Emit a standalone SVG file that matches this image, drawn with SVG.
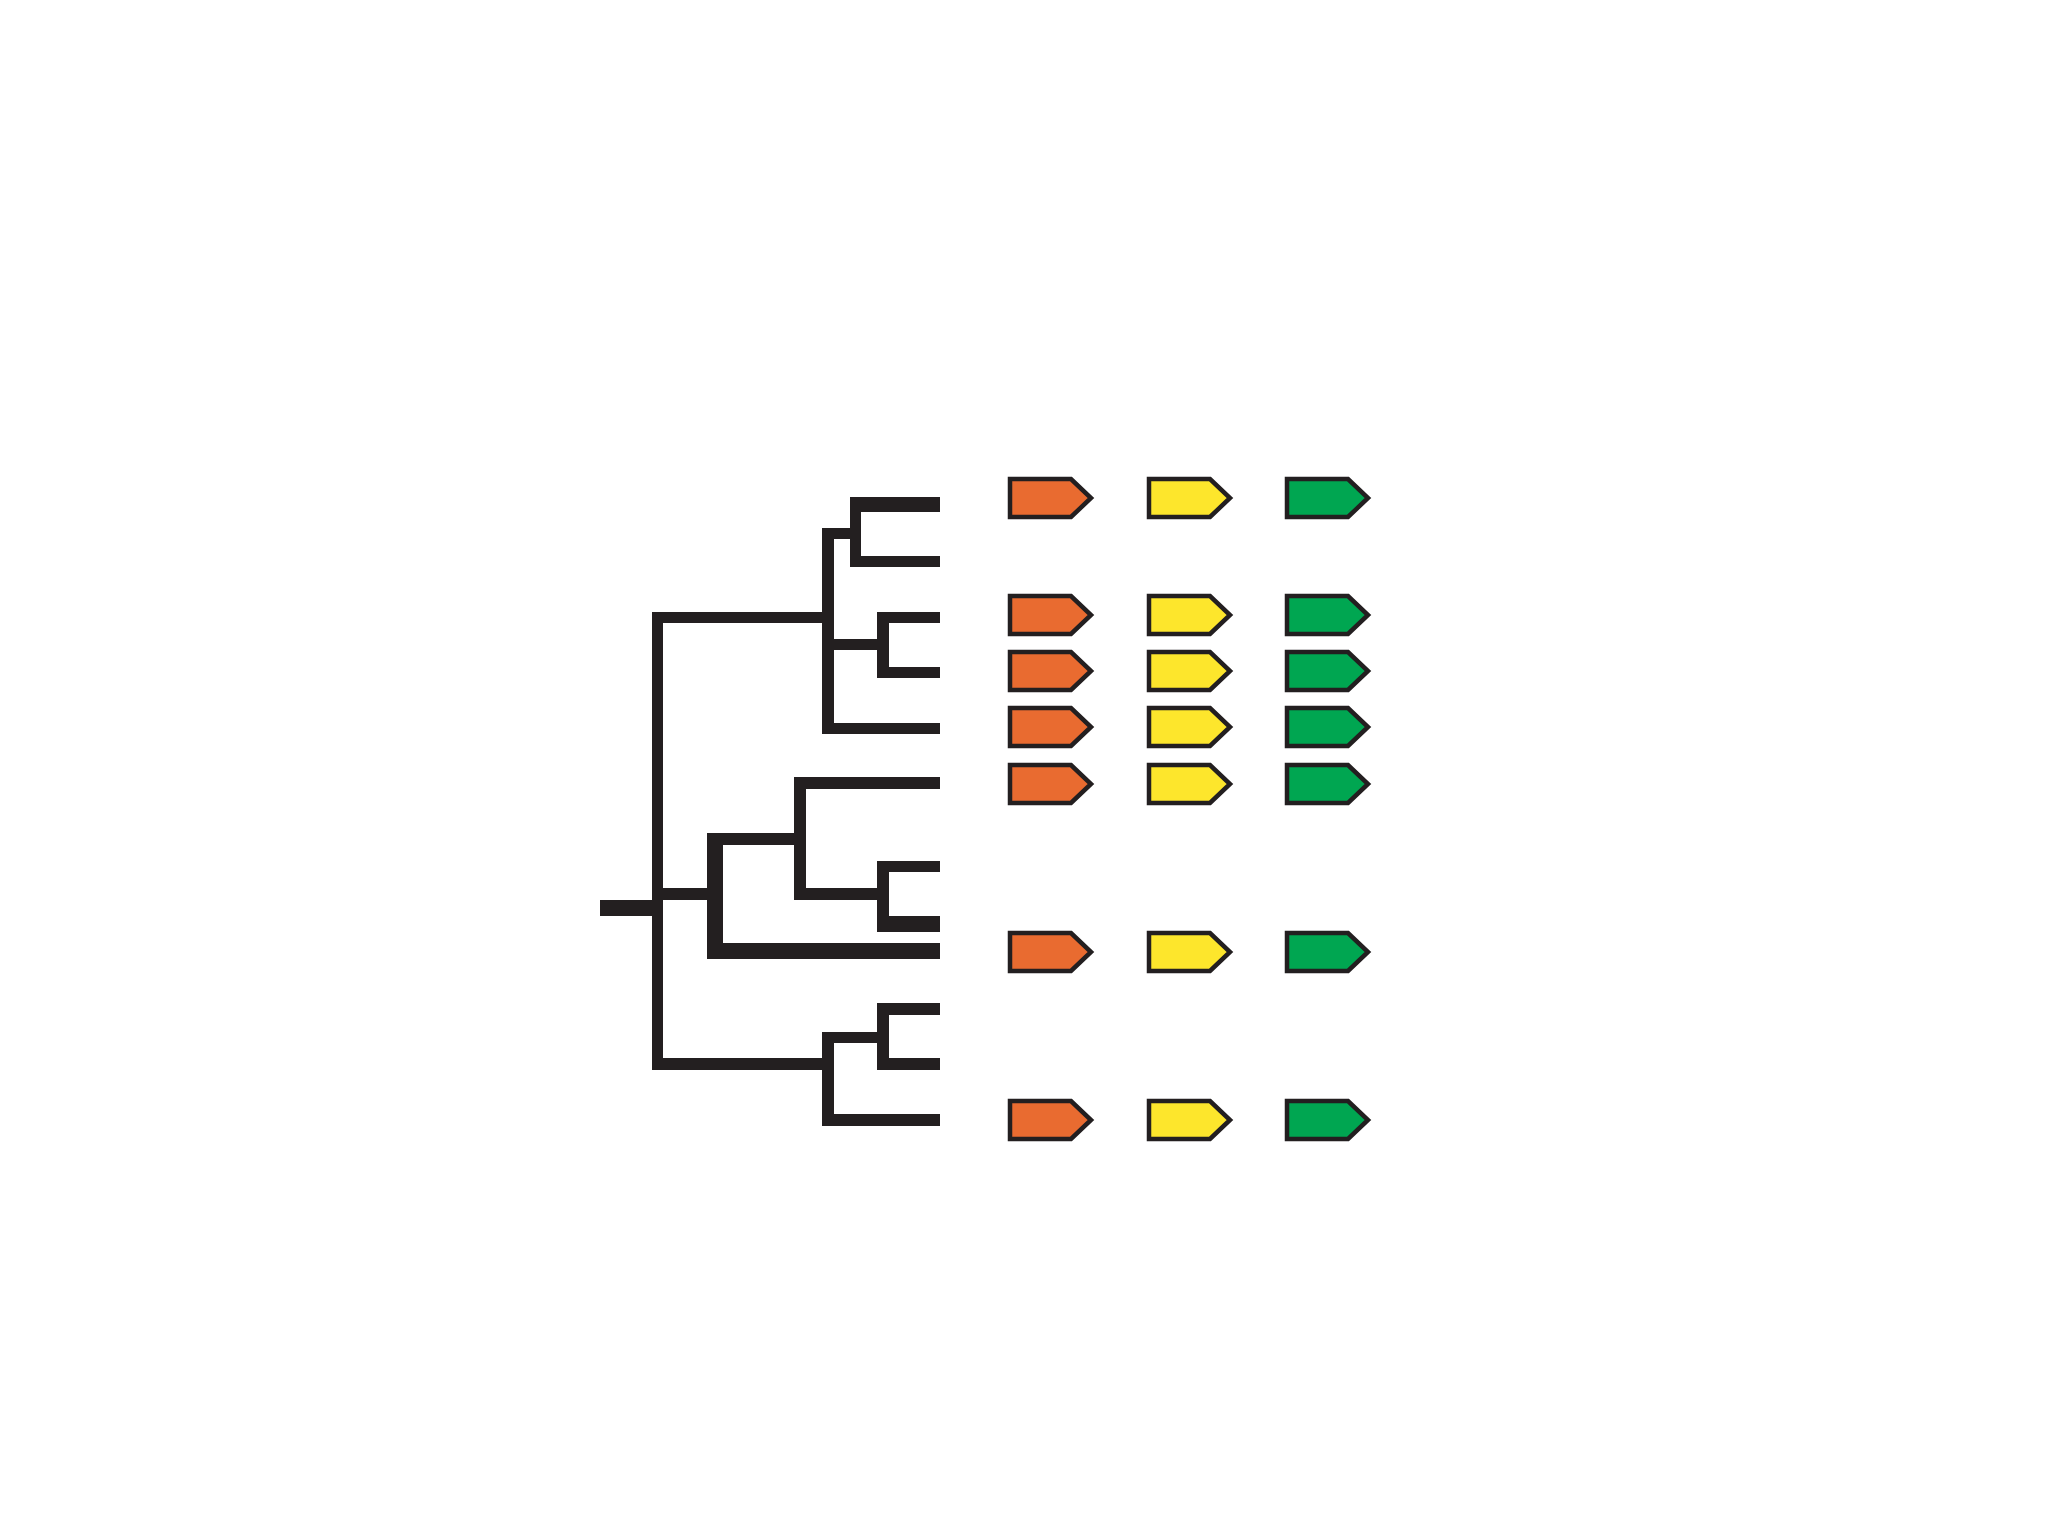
<svg xmlns="http://www.w3.org/2000/svg" xmlns:xlink="http://www.w3.org/1999/xlink" width="2048" height="1536" viewBox="0 0 2048 1536">
<style>
.br{fill:#231f20}
.tag{stroke:#231f20;stroke-width:4.5;stroke-linejoin:miter}
.o{fill:#e96b30}
.y{fill:#fde62c}
.g{fill:#00a651}
</style>
<defs>
<path id="tag" d="M0,-19 H61 L81,0 L61,19 H0 Z"/>
</defs>
<rect width="2048" height="1536" fill="#ffffff"/>
<g id="connectors">
<rect class="br" x="850" y="497" width="90" height="15"/>
<rect class="br" x="850" y="497" width="11" height="70"/>
<rect class="br" x="850" y="556" width="90" height="11"/>
<rect class="br" x="822" y="528" width="39" height="11"/>
<rect class="br" x="822" y="528" width="12" height="205"/>
<rect class="br" x="877" y="612" width="63" height="11"/>
<rect class="br" x="877" y="612" width="12" height="66"/>
<rect class="br" x="877" y="667" width="63" height="11"/>
<rect class="br" x="822" y="639" width="67" height="11"/>
<rect class="br" x="822" y="723" width="118" height="11"/>
<rect class="br" x="652" y="612" width="182" height="11"/>
<rect class="br" x="652" y="612" width="11" height="458"/>
<rect class="br" x="794" y="777" width="146" height="12"/>
<rect class="br" x="794" y="777" width="12" height="123"/>
<rect class="br" x="794" y="888" width="95" height="12"/>
<rect class="br" x="877" y="861" width="63" height="11"/>
<rect class="br" x="877" y="861" width="12" height="71"/>
<rect class="br" x="877" y="916" width="63" height="16"/>
<rect class="br" x="707" y="833" width="99" height="12"/>
<rect class="br" x="707" y="833" width="16" height="126"/>
<rect class="br" x="707" y="943" width="233" height="16"/>
<rect class="br" x="652" y="888" width="71" height="12"/>
<rect class="br" x="600" y="900" width="63" height="16"/>
<rect class="br" x="652" y="1058" width="182" height="12"/>
<rect class="br" x="822" y="1032" width="12" height="94"/>
<rect class="br" x="822" y="1032" width="67" height="11"/>
<rect class="br" x="877" y="1003" width="63" height="12"/>
<rect class="br" x="877" y="1003" width="12" height="67"/>
<rect class="br" x="877" y="1058" width="63" height="12"/>
<rect class="br" x="822" y="1114" width="118" height="12"/>
</g>
<g id="row1">
<use xlink:href="#tag" href="#tag" class="tag o" x="1010" y="498"/>
<use xlink:href="#tag" href="#tag" class="tag y" x="1149" y="498"/>
<use xlink:href="#tag" href="#tag" class="tag g" x="1287" y="498"/>
</g>
<g id="row2">
<use xlink:href="#tag" href="#tag" class="tag o" x="1010" y="615"/>
<use xlink:href="#tag" href="#tag" class="tag y" x="1149" y="615"/>
<use xlink:href="#tag" href="#tag" class="tag g" x="1287" y="615"/>
</g>
<g id="row3">
<use xlink:href="#tag" href="#tag" class="tag o" x="1010" y="671"/>
<use xlink:href="#tag" href="#tag" class="tag y" x="1149" y="671"/>
<use xlink:href="#tag" href="#tag" class="tag g" x="1287" y="671"/>
</g>
<g id="row4">
<use xlink:href="#tag" href="#tag" class="tag o" x="1010" y="727"/>
<use xlink:href="#tag" href="#tag" class="tag y" x="1149" y="727"/>
<use xlink:href="#tag" href="#tag" class="tag g" x="1287" y="727"/>
</g>
<g id="row5">
<use xlink:href="#tag" href="#tag" class="tag o" x="1010" y="784"/>
<use xlink:href="#tag" href="#tag" class="tag y" x="1149" y="784"/>
<use xlink:href="#tag" href="#tag" class="tag g" x="1287" y="784"/>
</g>
<g id="row6">
<use xlink:href="#tag" href="#tag" class="tag o" x="1010" y="952"/>
<use xlink:href="#tag" href="#tag" class="tag y" x="1149" y="952"/>
<use xlink:href="#tag" href="#tag" class="tag g" x="1287" y="952"/>
</g>
<g id="row7">
<use xlink:href="#tag" href="#tag" class="tag o" x="1010" y="1120"/>
<use xlink:href="#tag" href="#tag" class="tag y" x="1149" y="1120"/>
<use xlink:href="#tag" href="#tag" class="tag g" x="1287" y="1120"/>
</g>
</svg>
